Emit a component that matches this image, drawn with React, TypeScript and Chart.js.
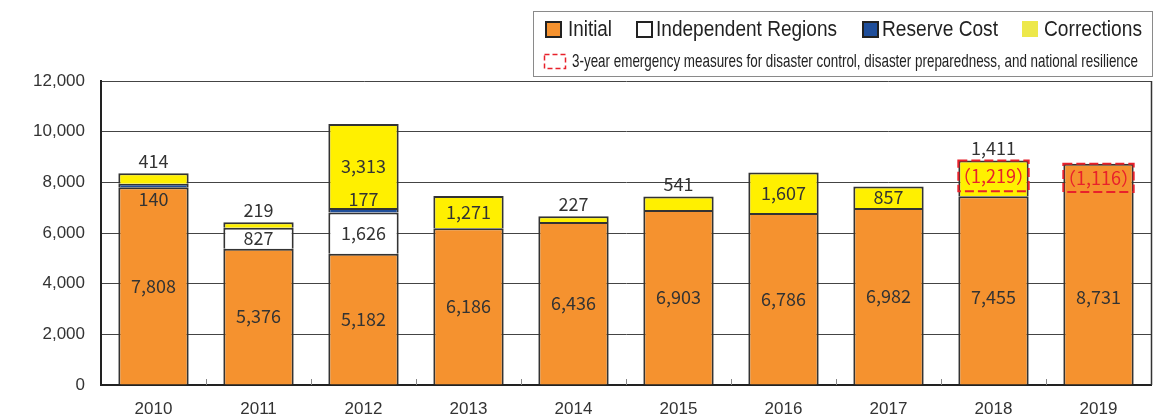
import React, { useEffect, useRef } from "react";
import { Chart, registerables } from "chart.js";

Chart.register(...registerables);

const years = ["2010", "2011", "2012", "2013", "2014", "2015", "2016", "2017", "2018", "2019"];
const initial = [7808, 5376, 5182, 6186, 6436, 6903, 6786, 6982, 7455, 8731];
const independentRegions = [null, 827, 1626, null, null, null, null, null, null, null];
const reserveCost = [140, null, 177, null, null, null, null, null, null, null];
const corrections = [414, 219, 3313, 1271, 227, 541, 1607, 857, 1411, null];
const emergencyMeasures = [null, null, null, null, null, null, null, null, 1219, 1116];
const yTicks = [0, 2000, 4000, 6000, 8000, 10000, 12000];

const COLORS = {
  initial: "#F5922F",
  independent: "#FFFFFF",
  reserve: "#1F4E9A",
  corrections: "#FFF000",
  legendYellow: "#EDE84A",
  emergency: "#E8212B",
  border: "#333333",
  text: "#333333",
};

const LABEL_FONT = '18px "Noto Sans CJK JP", "Noto Sans", sans-serif';
const fmt = (v: number) => v.toLocaleString("en-US");

function fillFit(ctx: any, text: string, x: number, y: number, width: number) {
  const m = ctx.measureText(text).width;
  const s = width / m;
  ctx.save();
  ctx.translate(x, y);
  ctx.scale(s, 1);
  ctx.fillText(text, 0, 0);
  ctx.restore();
}

const labelsPlugin = {
  id: "valueLabels",
  afterDatasetsDraw(chart: any) {
    const ctx = chart.ctx;
    const y = chart.scales.y;
    ctx.save();
    ctx.font = LABEL_FONT;
    ctx.fillStyle = COLORS.text;
    ctx.textAlign = "center";
    ctx.textBaseline = "middle";
    const nDs = 4;
    years.forEach((_, i) => {
      let topDs = -1;
      for (let d = 0; d < nDs; d++) {
        if (chart.data.datasets[d].data[i] != null) topDs = d;
      }
      const hasEmergency = emergencyMeasures[i] != null;
      for (let d = 0; d < nDs; d++) {
        const v = chart.data.datasets[d].data[i];
        if (v == null) continue;
        const el = chart.getDatasetMeta(d).data[i];
        const top = el.y;
        const bottom = el.base;
        const h = bottom - top;
        const x = el.x;
        let ly: number;
        if (d === 2) {
          const above = chart.data.datasets[3].data[i];
          const aboveH = above != null ? y.getPixelForValue(0) - y.getPixelForValue(above as number) : 0;
          ly = aboveH > 40 ? top - 9 : bottom + 12;
        } else if (d === 0 && hasEmergency) {
          ly = y.getPixelForValue(3450);
        } else if (d === topDs && (h < 18 || hasEmergency)) {
          ly = top - 12;
        } else {
          ly = (top + bottom) / 2;
        }
        ctx.fillText(fmt(v as number), x, ly);
      }
    });
    const meta0 = chart.getDatasetMeta(0);
    years.forEach((_, i) => {
      const e = emergencyMeasures[i];
      if (e == null) return;
      let total = 0;
      for (let d = 0; d < nDs; d++) total += (chart.data.datasets[d].data[i] as number) || 0;
      const el = meta0.data[i];
      const w = el.width;
      const x0 = el.x - w / 2;
      const yTop = y.getPixelForValue(total);
      const yBot = y.getPixelForValue(total - e);
      ctx.save();
      ctx.strokeStyle = COLORS.emergency;
      ctx.lineWidth = 2;
      ctx.setLineDash([9, 4]);
      ctx.strokeRect(x0, yTop, w, yBot - yTop);
      ctx.restore();
      ctx.fillStyle = COLORS.emergency;
      ctx.fillText("（" + fmt(e) + "）", el.x, (yTop + yBot) / 2);
      ctx.fillStyle = COLORS.text;
    });
    ctx.restore();
  },
};

const framePlugin = {
  id: "frame",
  afterDraw(chart: any) {
    const ctx = chart.ctx;
    const a = chart.chartArea;
    const x = chart.scales.x;
    ctx.save();
    ctx.strokeStyle = "#333";
    ctx.lineWidth = 1.5;
    ctx.beginPath();
    ctx.moveTo(a.right + 0.5, a.top);
    ctx.lineTo(a.right + 0.5, a.bottom);
    ctx.stroke();
    ctx.strokeStyle = "#888";
    ctx.lineWidth = 1;
    for (let i = 1; i < years.length; i++) {
      const px = Math.round((x.getPixelForValue(i - 1) + x.getPixelForValue(i)) / 2) + 0.5;
      ctx.beginPath();
      ctx.moveTo(px, a.bottom);
      ctx.lineTo(px, a.bottom - 6);
      ctx.stroke();
    }
    // legend
    const lx = 533, ly = 11, lw = 619, lh = 65;
    ctx.fillStyle = "#fff";
    ctx.fillRect(lx, ly, lw, lh);
    ctx.strokeStyle = "#8a8a8a";
    ctx.lineWidth = 1;
    ctx.strokeRect(lx + 0.5, ly + 0.5, lw, lh);
    const items = [
      { label: "Initial", color: COLORS.initial, sx: 545, tx: 568, tw: 44 },
      { label: "Independent Regions", color: COLORS.independent, sx: 636, tx: 656, tw: 181 },
      { label: "Reserve Cost", color: COLORS.reserve, sx: 862, tx: 882, tw: 116 },
      { label: "Corrections", color: COLORS.legendYellow, sx: 1022, tx: 1044, tw: 98 },
    ];
    ctx.font = '22px "Liberation Sans", Arial, sans-serif';
    ctx.textAlign = "left";
    ctx.textBaseline = "middle";
    items.forEach((it) => {
      ctx.fillStyle = it.color;
      ctx.fillRect(it.sx, 21, 16, 16);
      if (it.color !== COLORS.legendYellow) {
        ctx.strokeStyle = "#222";
        ctx.lineWidth = 2;
        ctx.strokeRect(it.sx + 1, 22, 15, 15);
      }
      ctx.fillStyle = "#222";
      fillFit(ctx, it.label, it.tx, 30, it.tw);
    });
    ctx.strokeStyle = COLORS.emergency;
    ctx.lineWidth = 1.5;
    ctx.setLineDash([5, 3]);
    ctx.strokeRect(544.5, 54.5, 21, 14);
    ctx.setLineDash([]);
    ctx.fillStyle = "#222";
    ctx.font = '19px "Liberation Sans", Arial, sans-serif';
    fillFit(
      ctx,
      "3-year emergency measures for disaster control, disaster preparedness, and national resilience",
      572,
      62,
      566
    );
    ctx.restore();
  },
};

export default function App() {
  const ref = useRef<HTMLCanvasElement>(null);
  useEffect(() => {
    if (!ref.current) return;
    const common = {
      borderColor: COLORS.border,
      borderWidth: (c: any) => (c.raw == null ? 0 : { top: 2, left: 2, right: 2, bottom: 0 }),
      borderSkipped: false,
      barPercentage: 0.67,
      categoryPercentage: 1,
    };
    const chart = new Chart(ref.current, {
      type: "bar",
      data: {
        labels: years,
        datasets: [
          { label: "Initial", data: initial, backgroundColor: COLORS.initial, ...common },
          { label: "Independent Regions", data: independentRegions, backgroundColor: COLORS.independent, ...common },
          { label: "Reserve Cost", data: reserveCost, backgroundColor: COLORS.reserve, ...common },
          { label: "Corrections", data: corrections, backgroundColor: COLORS.corrections, ...common },
        ] as any,
      },
      options: {
        responsive: false,
        animation: false,
        layout: { padding: { top: 81, right: 12, left: 0, bottom: 0 } },
        plugins: { legend: { display: false }, tooltip: { enabled: false } },
        scales: {
          x: {
            stacked: true,
            grid: { display: false },
            border: { display: true, color: "#222", width: 2 },
            ticks: { color: "#333", font: { family: '"Liberation Sans", Arial, sans-serif', size: 17 }, padding: 6 },
            afterFit: (s: any) => { s.height = 31; },
          },
          y: {
            stacked: true,
            min: 0,
            max: 12000,
            afterBuildTicks: (s: any) => { s.ticks = yTicks.map((v) => ({ value: v })); },
            grid: { color: "#444", lineWidth: 1, drawTicks: false },
            border: { display: true, color: "#222", width: 2 },
            ticks: {
              color: "#333",
              font: { family: '"Liberation Sans", Arial, sans-serif', size: 17 },
              padding: 16,
              callback: (v: any) => fmt(Number(v)),
            },
            afterFit: (s: any) => { s.width = 101; },
          },
        },
      },
      plugins: [labelsPlugin, framePlugin],
    });
    return () => chart.destroy();
  }, []);
  return (
    <div style={{ position: "absolute", left: 0, top: 0, width: 1163, height: 416, background: "#fff" }}>
      <canvas ref={ref} width={1163} height={416} />
    </div>
  );
}
